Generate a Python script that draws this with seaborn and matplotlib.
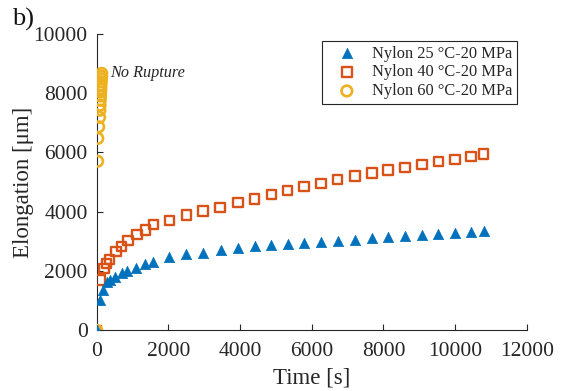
import matplotlib
matplotlib.use("Agg")
import matplotlib.pyplot as plt
import seaborn as sns
import pandas as pd

# ---- data ----
t25 = [0, 90, 180, 280, 370, 510, 700, 840, 1100, 1350, 1580, 2030, 2490, 2970, 3470,
       3940, 4420, 4870, 5340, 5790, 6260, 6730, 7210, 7680, 8130, 8600, 9080, 9530,
       10000, 10450, 10800]
e25 = [0, 1020, 1360, 1640, 1700, 1810, 1940, 2010, 2110, 2235, 2310, 2460, 2560, 2610,
       2700, 2770, 2830, 2865, 2900, 2945, 2980, 3020, 3060, 3100, 3140, 3175, 3205,
       3245, 3280, 3310, 3350]

t40 = [0, 110, 200, 280, 350, 540, 700, 870, 1130, 1370, 1580, 2030, 2500, 2970, 3440,
       3940, 4400, 4870, 5330, 5790, 6260, 6720, 7210, 7680, 8130, 8600, 9080, 9530,
       10000, 10450, 10800]
e40 = [0, 1700, 2090, 2260, 2390, 2650, 2820, 3020, 3240, 3380, 3570, 3700, 3890, 4020,
       4150, 4300, 4425, 4585, 4705, 4840, 4955, 5090, 5200, 5310, 5400, 5480, 5595,
       5685, 5765, 5850, 5940]

t60 = [0, 25, 30, 55, 80, 90, 95, 100, 105, 110, 115, 120, 125, 130, 135, 140]
e60 = [0, 5700, 6470, 6860, 7180, 7420, 7590, 7760, 7900, 8030, 8150, 8270, 8380, 8480,
       8570, 8660]

labels = ["Nylon 25 \u00b0C-20 MPa", "Nylon 40 \u00b0C-20 MPa", "Nylon 60 \u00b0C-20 MPa"]
colors = ["#0072BD", "#D95319", "#EDB120"]

sns.set_theme(style="ticks")
plt.rcParams["font.family"] = ["Liberation Serif", "DejaVu Serif"]

fig = plt.figure(figsize=(5.67, 3.91), dpi=100)
ax = fig.add_axes([0.1705, 0.155, 0.929 - 0.1705, 0.914 - 0.155])

df25 = pd.DataFrame({"t": t25, "e": e25})
df40 = pd.DataFrame({"t": t40, "e": e40})
df60 = pd.DataFrame({"t": t60, "e": e60})

sns.scatterplot(data=df40, x="t", y="e", marker="s", s=46, ax=ax, label=labels[1],
                zorder=3)
sns.scatterplot(data=df60, x="t", y="e", marker="o", s=58, ax=ax, label=labels[2],
                zorder=3)
sns.scatterplot(data=df25, x="t", y="e", marker="^", s=55, ax=ax, label=labels[0],
                zorder=4)

cols = ax.collections
# order: 40, 60, 25
cols[0].set_facecolor("none"); cols[0].set_edgecolor(colors[1]); cols[0].set_linewidth(1.7)
cols[1].set_facecolor("none"); cols[1].set_edgecolor(colors[2]); cols[1].set_linewidth(1.9)
cols[2].set_facecolor(colors[0]); cols[2].set_edgecolor(colors[0]); cols[2].set_linewidth(0.5)

ax.set_xlim(0, 12000)
ax.set_ylim(0, 10000)
ax.set_xticks([0, 2000, 4000, 6000, 8000, 10000, 12000])
ax.set_yticks([0, 2000, 4000, 6000, 8000, 10000])
ax.tick_params(direction="in", length=4, width=0.8, labelsize=15.5, colors="#262626")
ax.tick_params(axis="x", pad=8)
ax.tick_params(axis="y", pad=6.5)
for s in ["top", "right"]:
    ax.spines[s].set_visible(False)
for s in ["left", "bottom"]:
    ax.spines[s].set_linewidth(0.8)
    ax.spines[s].set_color("#262626")

ax.set_xlabel("Time [s]", fontsize=16.5, color="#262626", labelpad=5)
ax.set_ylabel("Elongation [\u03bcm]", fontsize=16.5, color="#262626", labelpad=0)

ax.text(370, 8672, "No Rupture", fontsize=11.7, style="italic",
        color="#262626", va="center", ha="left")

fig.text(12 / 567, 1 - 8 / 391, "b)", fontsize=19, va="top", ha="left", color="#111111")

handles, labs = ax.get_legend_handles_labels()
order = [labs.index(l) for l in labels]
leg = ax.legend([handles[i] for i in order], [labs[i] for i in order],
                loc="upper right", bbox_to_anchor=(0.9774, 0.976), fontsize=11.8,
                frameon=True, fancybox=False, edgecolor="#262626", framealpha=1,
                borderpad=0.3, handletextpad=0.32, labelspacing=0.17,
                borderaxespad=0.0, handlelength=2.4)
leg.get_frame().set_linewidth(0.8)

fig.savefig("out.png", dpi=100)
